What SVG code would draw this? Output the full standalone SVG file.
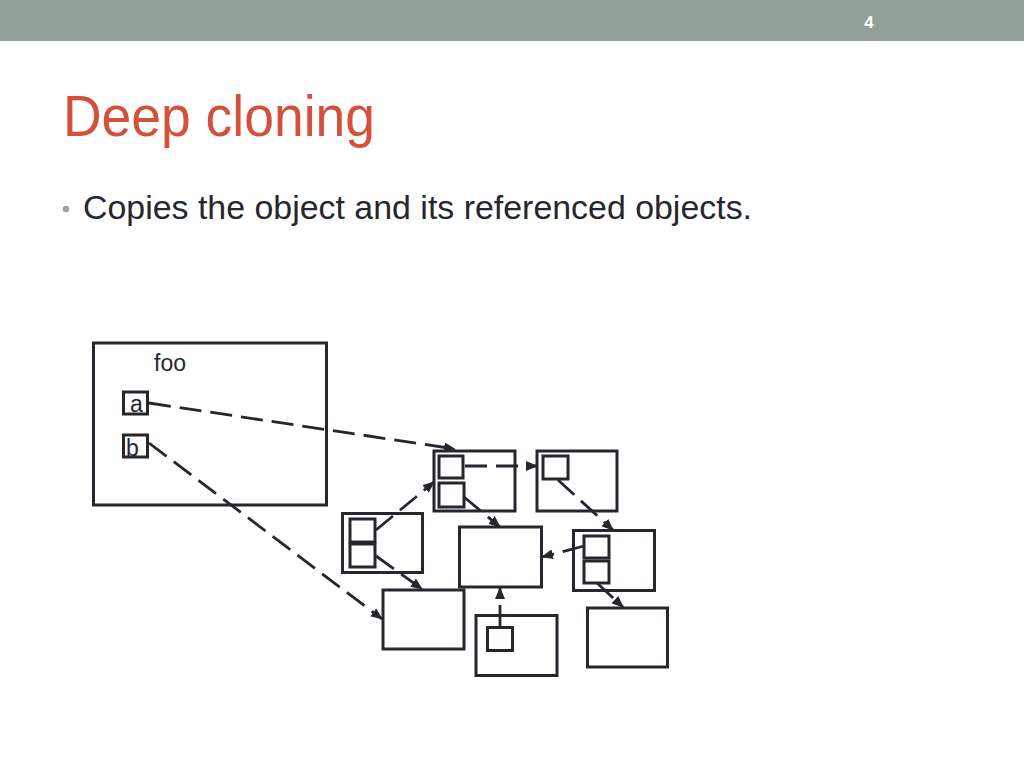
<svg xmlns="http://www.w3.org/2000/svg" width="1024" height="768" viewBox="0 0 1024 768">
<style>
.box{fill:#fff;stroke:#26262e;stroke-width:3}
.in{fill:none;stroke:#26262e;stroke-width:3}
.con{fill:none;stroke:#26262e;stroke-width:2.8;stroke-dasharray:22 9}
.lbl{font-family:"Liberation Sans",Arial,sans-serif;font-size:23px;fill:#26262e}
</style>
<defs>
<marker id="ah" markerUnits="userSpaceOnUse" markerWidth="12" markerHeight="10" refX="11" refY="5" orient="auto">
<path d="M0,0 L12,5 L0,10 Z" fill="#26262e"/>
</marker>
</defs>
<rect x="0" y="0" width="1024" height="41" fill="#92A099"/>
<text x="869" y="28" text-anchor="middle" font-family="Liberation Sans,Arial,sans-serif" font-size="17" font-weight="bold" fill="#ffffff">4</text>
<text x="63" y="136" font-family="Liberation Sans,Arial,sans-serif" font-size="57" fill="#D4503A" textLength="312" lengthAdjust="spacingAndGlyphs">Deep cloning</text>
<circle cx="66" cy="209" r="3.2" fill="#9aa39e"/>
<text x="83" y="219" font-family="Liberation Sans,Arial,sans-serif" font-size="34" fill="#26262e" textLength="669" lengthAdjust="spacingAndGlyphs">Copies the object and its referenced objects.</text>

<g id="foo">
<rect class="box" x="93.5" y="343" width="233" height="162"/>
<text class="lbl" x="154" y="371">foo</text>
<rect class="in" x="123.5" y="392" width="24" height="22"/>
<text class="lbl" x="130" y="412">a</text>
<rect class="in" x="123.5" y="435" width="24" height="22"/>
<text class="lbl" x="126" y="456">b</text>
</g>
<g id="objA">
<rect class="box" x="434" y="451" width="81" height="60"/>
<rect class="in" x="439" y="456" width="24" height="22"/>
<rect class="in" x="439" y="483" width="25" height="24"/>
</g>
<g id="objB">
<rect class="box" x="537" y="451" width="80" height="60"/>
<rect class="in" x="543" y="456" width="25" height="23"/>
</g>
<g id="objC">
<rect class="box" x="342.5" y="513.5" width="80" height="59"/>
<rect class="in" x="350" y="519" width="25" height="23"/>
<rect class="in" x="350" y="544" width="25" height="23"/>
</g>
<g id="objD">
<rect class="box" x="459.5" y="527" width="82" height="60"/>
</g>
<g id="objE">
<rect class="box" x="573.5" y="530.5" width="81" height="60"/>
<rect class="in" x="584" y="536" width="25" height="22"/>
<rect class="in" x="584" y="561" width="25" height="22"/>
</g>
<g id="objF">
<rect class="box" x="383" y="590" width="81" height="59"/>
</g>
<g id="objG">
<rect class="box" x="476" y="615.5" width="81" height="60"/>
<rect class="in" x="487.5" y="627.5" width="25" height="23"/>
</g>
<g id="objH">
<rect class="box" x="587.5" y="608" width="80" height="59"/>
</g>

<g id="connectors">
<line class="con" x1="149" y1="403" x2="455" y2="449" marker-end="url(#ah)"/>
<line class="con" x1="149" y1="443" x2="382" y2="619" marker-end="url(#ah)"/>
<line class="con" x1="376" y1="530" x2="434" y2="482" marker-end="url(#ah)"/>
<line class="con" x1="376" y1="556" x2="422" y2="589" marker-end="url(#ah)"/>
<line class="con" x1="465" y1="466" x2="537" y2="466" marker-end="url(#ah)"/>
<line class="con" x1="464" y1="497" x2="500" y2="527" marker-end="url(#ah)"/>
<line class="con" x1="558" y1="480" x2="613" y2="530" marker-end="url(#ah)"/>
<line class="con" x1="584" y1="546" x2="542" y2="557" marker-end="url(#ah)"/>
<line class="con" x1="597" y1="583" x2="623" y2="607" marker-end="url(#ah)"/>
<line class="con" x1="500" y1="627" x2="500" y2="588" marker-end="url(#ah)"/>
</g>
</svg>
